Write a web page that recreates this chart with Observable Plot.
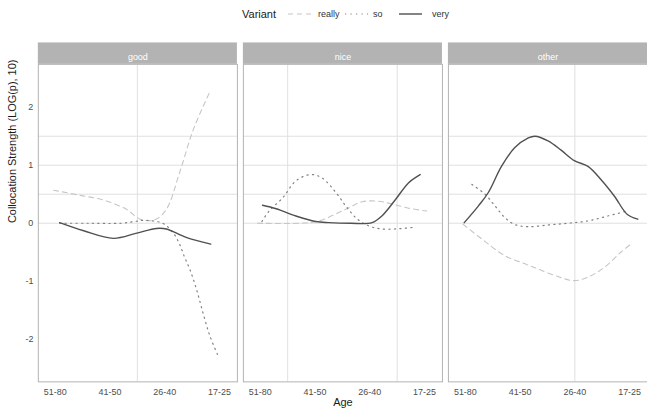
<!DOCTYPE html>
<html>
<head>
<meta charset="utf-8">
<script src="https://cdn.jsdelivr.net/npm/d3@7"></script>
<script src="https://cdn.jsdelivr.net/npm/@observablehq/plot@0.6"></script>
<style>
  html, body { margin: 0; padding: 0; background: #fff; overflow: hidden; }
  #chart { position: relative; width: 647px; height: 414px; overflow: hidden;
           font-family: "Liberation Sans", Arial, sans-serif; }
  #legend { position: absolute; left: 0; top: 0; }
  #plot { position: absolute; left: 0; top: 30px; }
</style>
</head>
<body>
<div id="chart">
  <svg id="legend" width="647" height="30"></svg>
  <div id="plot"></div>
</div>
<script>
// Panels, variants and the age groups on the x axis (oldest to youngest)
const facets = ["good", "nice", "other"];
const variants = ["really", "so", "very"];
const ageLabels = ["51-80", "41-50", "26-40", "17-25"];
const ageTicks = [1, 2, 3, 4];
const strengthTicks = [-2, -1, 0, 1, 2];

// Smoothed collocation strength, sampled along each curve (age position, strength)
const goodReallyAge = [0.97, 1.46, 1.88, 2.30, 2.55, 2.82, 3.03, 3.27, 3.52, 3.81];
const goodReallyVal = [0.57, 0.48, 0.40, 0.24, 0.07, 0.06, 0.24, 0.87, 1.61, 2.24];
const goodSoAge = [1.08, 1.60, 2.20, 2.45, 2.62, 2.96, 3.15, 3.27, 3.36, 3.46, 3.58, 3.70, 3.82, 3.98];
const goodSoVal = [0.00, 0.00, 0.00, 0.03, 0.05, 0.00, -0.16, -0.36, -0.58, -0.80, -1.14, -1.55, -1.93, -2.30];
const goodVeryAge = [1.08, 1.52, 2.06, 2.49, 2.85, 3.03, 3.39, 3.84];
const goodVeryVal = [0.01, -0.13, -0.26, -0.17, -0.09, -0.10, -0.245, -0.36];

const niceReallyAge = [0.95, 1.71, 2.07, 2.56, 2.86, 3.16, 3.41, 3.71, 4.04];
const niceReallyVal = [0.00, 0.00, 0.04, 0.24, 0.37, 0.38, 0.33, 0.26, 0.21];
const niceSoAge = [1.03, 1.16, 1.41, 1.65, 1.92, 2.13, 2.38, 2.56, 2.74, 2.92, 3.22, 3.80];
const niceSoVal = [0.03, 0.21, 0.44, 0.73, 0.84, 0.78, 0.53, 0.30, 0.10, -0.02, -0.10, -0.07];
const niceVeryAge = [1.04, 1.29, 1.65, 2.01, 2.25, 2.65, 3.04, 3.22, 3.47, 3.71, 3.92];
const niceVeryVal = [0.31, 0.25, 0.125, 0.03, 0.01, 0.00, 0.01, 0.125, 0.41, 0.70, 0.84];

const otherReallyAge = [0.96, 1.30, 1.72, 2.09, 2.33, 2.69, 2.99, 3.24, 3.54, 3.84, 4.05];
const otherReallyVal = [-0.02, -0.27, -0.56, -0.70, -0.79, -0.92, -0.99, -0.93, -0.76, -0.50, -0.34];
const otherSoAge = [1.12, 1.36, 1.54, 1.72, 1.90, 2.15, 2.51, 2.87, 3.24, 3.60, 3.96];
const otherSoVal = [0.67, 0.50, 0.30, 0.10, -0.02, -0.06, -0.03, 0.00, 0.04, 0.125, 0.21];
const otherVeryAge = [0.98, 1.24, 1.42, 1.66, 1.90, 2.15, 2.27, 2.51, 2.75, 2.99, 3.24, 3.48, 3.72, 3.96, 4.15];
const otherVeryVal = [0.01, 0.30, 0.53, 0.98, 1.30, 1.47, 1.50, 1.42, 1.26, 1.08, 0.98, 0.75, 0.47, 0.15, 0.07];

// Grid lines that show in each panel
const hGrid = [0, 0.5, 1, 1.5];
const vGridFacet = ["good", "nice", "nice", "other"];
const vGridAge = [2.5, 1.5, 3.5, 3];

const series = [
  ["good", "really", goodReallyAge, goodReallyVal],
  ["good", "so", goodSoAge, goodSoVal],
  ["good", "very", goodVeryAge, goodVeryVal],
  ["nice", "really", niceReallyAge, niceReallyVal],
  ["nice", "so", niceSoAge, niceSoVal],
  ["nice", "very", niceVeryAge, niceVeryVal],
  ["other", "really", otherReallyAge, otherReallyVal],
  ["other", "so", otherSoAge, otherSoVal],
  ["other", "very", otherVeryAge, otherVeryVal]
];
const rows = series.flatMap(([facet, variant, ages, vals]) =>
  ages.map((age, i) => ({facet, variant, age, strength: vals[i]})));
const vGrid = vGridAge.map((age, i) => ({facet: vGridFacet[i], age}));

const lineStyle = {
  really: {stroke: "#c6c6c6", strokeWidth: 1.1, strokeDasharray: "5,4"},
  so:     {stroke: "#808080", strokeWidth: 1.2, strokeDasharray: "1.2,4.3"},
  very:   {stroke: "#505050", strokeWidth: 1.4}
};

const xDomain = [0.691, 4.327];
const yDomain = [-2.735, 2.74];

const chart = Plot.plot({
  width: 650,
  height: 384,
  marginTop: 34,
  marginBottom: 31,
  marginLeft: 38,
  marginRight: 0,
  style: {fontFamily: "Liberation Sans, Arial, sans-serif", fontSize: "9px", background: "white"},
  fx: {domain: facets, axis: null, paddingInner: 6 / 206, paddingOuter: 0, round: false},
  x: {domain: xDomain},
  y: {domain: yDomain},
  marks: [
    Plot.ruleY(hGrid, {stroke: "#e0e0e0", strokeWidth: 1}),
    Plot.ruleX(vGrid, {x: "age", fx: "facet", stroke: "#e0e0e0", strokeWidth: 1}),
    // facet strips
    Plot.rect([0], {x1: xDomain[0], x2: xDomain[1], y1: yDomain[1], y2: yDomain[1],
                    insetTop: -21.5, fill: "#b3b3b3"}),
    Plot.text(facets.map(f => ({facet: f})), {fx: "facet", text: "facet", frameAnchor: "top",
                    dy: -10.5, fill: "white", fontSize: 9}),
    Plot.frame({stroke: "#b3b3b3", strokeWidth: 1}),
    ...variants.map(v => Plot.line(rows.filter(d => d.variant === v), {
      x: "age", y: "strength", fx: "facet", curve: "catmull-rom", ...lineStyle[v]
    })),
    Plot.axisY({ticks: strengthTicks, tickFormat: d => String(d), tickSize: 0, tickPadding: 5,
                color: "#4d4d4d", fontSize: 9, label: null}),
    Plot.axisX({ticks: ageTicks, tickFormat: d => ageLabels[d - 1], tickSize: 0, tickPadding: 7,
                color: "#4d4d4d", fontSize: 9, label: null}),
    Plot.text([{facet: "good", label: "Collocation Strength (LOG(p), 10)"}], {
      fx: "facet", text: "label", frameAnchor: "left", rotate: -90, dx: -26,
      fontSize: 11, fill: "#1a1a1a"}),
    Plot.text([{facet: "nice", label: "Age"}], {
      fx: "facet", text: "label", frameAnchor: "bottom", dy: 24, fontSize: 11, fill: "#1a1a1a"})
  ]
});
document.getElementById("plot").appendChild(chart);

// Legend for the line types
const legend = d3.select("#legend");
const ly = 14;
legend.append("text").attr("x", 242).attr("y", ly).attr("dy", "0.35em")
  .attr("font-size", 11).attr("fill", "#1a1a1a").text("Variant");
const keyX = [288, 345, 399];
const labelX = [318, 373, 432];
variants.forEach((v, i) => {
  const s = lineStyle[v];
  legend.append("line").attr("x1", keyX[i]).attr("x2", keyX[i] + 23)
    .attr("y1", ly).attr("y2", ly)
    .attr("stroke", s.stroke).attr("stroke-width", s.strokeWidth)
    .attr("stroke-dasharray", s.strokeDasharray || null);
  legend.append("text").attr("x", labelX[i]).attr("y", ly).attr("dy", "0.35em")
    .attr("font-size", 9).attr("fill", "#333").text(v);
});
</script>
</body>
</html>
